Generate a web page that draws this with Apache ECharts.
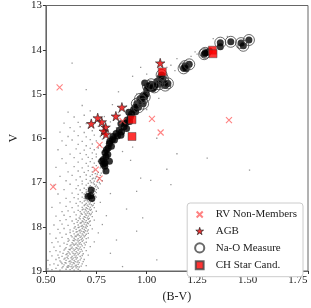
<!DOCTYPE html>
<html><head><meta charset="utf-8">
<script src="https://cdn.jsdelivr.net/npm/echarts@6/dist/echarts.min.js"></script>
<style>html,body{margin:0;padding:0;background:#fff}#c{width:311px;height:308px}</style>
</head><body><div id="c"></div>
<script>
const xTicks = [0.50, 0.75, 1.00, 1.25, 1.50, 1.75];
const yTicks = [13, 14, 15, 16, 17, 18, 19];

const fieldStars = [
[0.51,18.95],[0.53,18.97],[0.55,18.94],[0.57,18.98],[0.58,18.93],[0.60,18.96],[0.61,18.92],[0.62,18.97],[0.63,18.94],[0.64,18.98],[0.65,18.93],[0.66,18.96],[0.67,18.99],
[0.52,18.86],[0.54,18.84],[0.56,18.87],[0.58,18.83],[0.59,18.86],[0.60,18.82],[0.61,18.88],[0.62,18.84],[0.63,18.86],[0.64,18.83],[0.65,18.87],[0.66,18.85],[0.68,18.84],[0.70,18.88],
[0.51,18.76],[0.55,18.74],[0.57,18.77],[0.59,18.73],[0.60,18.76],[0.61,18.72],[0.62,18.77],[0.63,18.74],[0.64,18.76],[0.65,18.73],[0.66,18.77],[0.67,18.75],[0.69,18.74],
[0.53,18.66],[0.56,18.64],[0.58,18.67],[0.60,18.63],[0.61,18.66],[0.62,18.62],[0.63,18.67],[0.64,18.64],[0.65,18.66],[0.66,18.63],[0.67,18.67],[0.68,18.65],[0.71,18.64],
[0.52,18.56],[0.55,18.54],[0.57,18.57],[0.59,18.53],[0.61,18.56],[0.62,18.52],[0.63,18.57],[0.64,18.54],[0.65,18.56],[0.66,18.53],[0.67,18.57],[0.68,18.55],[0.70,18.54],
[0.54,18.46],[0.57,18.44],[0.60,18.47],[0.62,18.43],[0.63,18.46],[0.64,18.42],[0.65,18.47],[0.66,18.44],[0.67,18.46],[0.68,18.43],[0.69,18.47],[0.72,18.45],
[0.53,18.36],[0.56,18.34],[0.59,18.37],[0.61,18.33],[0.63,18.36],[0.64,18.32],[0.65,18.37],[0.66,18.34],[0.67,18.36],[0.68,18.33],[0.69,18.37],[0.70,18.35],[0.74,18.34],
[0.55,18.26],[0.58,18.24],[0.61,18.27],[0.63,18.23],[0.64,18.26],[0.65,18.22],[0.66,18.27],[0.67,18.24],[0.68,18.26],[0.69,18.23],[0.70,18.27],[0.71,18.25],
[0.52,18.16],[0.57,18.14],[0.60,18.17],[0.62,18.13],[0.64,18.16],[0.65,18.12],[0.66,18.17],[0.67,18.14],[0.68,18.16],[0.69,18.13],[0.70,18.17],[0.71,18.15],[0.76,18.14],
[0.56,18.06],[0.59,18.04],[0.62,18.07],[0.64,18.03],[0.65,18.06],[0.66,18.02],[0.67,18.07],[0.68,18.04],[0.69,18.06],[0.70,18.03],[0.71,18.07],[0.73,18.05],
[0.54,17.96],[0.58,17.94],[0.61,17.97],[0.64,17.93],[0.66,17.96],[0.67,17.92],[0.68,17.97],[0.69,17.94],[0.70,17.96],[0.71,17.93],[0.72,17.97],[0.78,17.95],
[0.57,17.86],[0.60,17.84],[0.63,17.87],[0.65,17.83],[0.66,17.86],[0.67,17.82],[0.68,17.87],[0.69,17.84],[0.70,17.86],[0.71,17.83],[0.72,17.87],[0.74,17.85],
[0.55,17.76],[0.59,17.74],[0.62,17.77],[0.65,17.73],[0.67,17.76],[0.68,17.72],[0.69,17.77],[0.70,17.74],[0.71,17.76],[0.72,17.73],[0.73,17.77],[0.80,17.75],
[0.58,17.66],[0.61,17.64],[0.64,17.67],[0.66,17.63],[0.67,17.66],[0.68,17.62],[0.69,17.67],[0.70,17.64],[0.71,17.66],[0.72,17.63],[0.73,17.67],[0.75,17.65],
[0.53,17.56],[0.60,17.54],[0.63,17.57],[0.66,17.53],[0.68,17.56],[0.69,17.52],[0.70,17.57],[0.71,17.54],[0.72,17.56],[0.73,17.53],[0.74,17.57],
[0.57,17.46],[0.62,17.44],[0.65,17.47],[0.67,17.43],[0.68,17.46],[0.69,17.42],[0.70,17.47],[0.71,17.44],[0.72,17.46],[0.73,17.43],[0.74,17.47],[0.77,17.45],
[0.60,17.36],[0.64,17.34],[0.66,17.37],[0.68,17.33],[0.69,17.36],[0.70,17.32],[0.71,17.37],[0.73,17.34],[0.74,17.36],[0.75,17.33],
[0.56,17.26],[0.63,17.24],[0.66,17.27],[0.68,17.23],[0.69,17.26],[0.70,17.22],[0.71,17.27],[0.72,17.24],[0.74,17.26],[0.75,17.23],[0.82,17.25],
[0.59,17.16],[0.65,17.14],[0.67,17.17],[0.69,17.13],[0.70,17.16],[0.71,17.12],[0.73,17.17],[0.74,17.14],[0.75,17.16],[0.76,17.13],
[0.54,17.06],[0.62,17.04],[0.66,17.07],[0.68,17.03],[0.70,17.06],[0.71,17.02],[0.72,17.07],[0.74,17.04],[0.75,17.06],[0.77,17.03],
[0.60,16.96],[0.65,16.94],[0.68,16.97],[0.70,16.93],[0.72,16.96],[0.73,16.92],[0.74,16.97],[0.76,16.94],[0.78,16.96],
[0.57,16.86],[0.63,16.84],[0.67,16.87],[0.70,16.83],[0.72,16.86],[0.73,16.82],[0.75,16.87],[0.77,16.84],
[0.61,16.76],[0.66,16.74],[0.69,16.77],[0.71,16.73],[0.73,16.76],[0.74,16.72],[0.76,16.77],[0.79,16.74],
[0.55,16.66],[0.64,16.64],[0.68,16.67],[0.71,16.63],[0.73,16.66],[0.75,16.62],[0.77,16.67],
[0.60,16.56],[0.66,16.54],[0.70,16.57],[0.72,16.53],[0.74,16.56],[0.76,16.52],[0.78,16.57],
[0.58,16.46],[0.64,16.44],[0.68,16.47],[0.71,16.43],[0.73,16.46],[0.75,16.42],[0.77,16.47],[0.80,16.44],
[0.62,16.36],[0.67,16.34],[0.70,16.37],[0.73,16.33],[0.75,16.36],[0.78,16.32],
[0.56,16.26],[0.65,16.24],[0.69,16.27],[0.72,16.23],[0.74,16.26],[0.76,16.22],[0.79,16.27],[0.81,16.24],
[0.60,16.16],[0.66,16.14],[0.70,16.17],[0.73,16.13],[0.77,16.16],[0.80,16.12],
[0.58,16.06],[0.63,16.04],[0.68,16.07],[0.72,16.03],[0.75,16.06],[0.78,16.02],[0.82,16.07],
[0.61,15.96],[0.66,15.94],[0.70,15.97],[0.74,15.93],[0.77,15.96],[0.83,15.94],
[0.57,15.86],[0.64,15.84],[0.69,15.87],[0.73,15.83],[0.81,15.86],
[0.62,15.76],[0.67,15.74],[0.71,15.77],[0.76,15.73],[0.85,15.76],
[0.59,15.66],[0.66,15.64],[0.70,15.67],[0.82,15.63],[0.88,15.66],
[0.64,15.52],[0.69,15.48],[0.79,15.51],
[0.61,15.41],[0.72,15.38],[0.86,15.42],
[0.68,15.26],[0.83,15.24],[0.90,15.27],
[0.585,18.90],[0.605,18.91],[0.615,18.89],[0.625,18.90],[0.635,18.91],[0.645,18.89],[0.655,18.90],[0.665,18.91],[0.675,18.89],
[0.575,18.80],[0.595,18.81],[0.615,18.79],[0.625,18.80],[0.635,18.81],[0.645,18.79],[0.655,18.80],[0.665,18.81],[0.685,18.79],
[0.565,18.70],[0.595,18.71],[0.605,18.69],[0.625,18.70],[0.635,18.71],[0.645,18.69],[0.655,18.70],[0.675,18.71],
[0.585,18.60],[0.605,18.61],[0.615,18.59],[0.635,18.60],[0.645,18.61],[0.655,18.59],[0.665,18.60],[0.685,18.61],
[0.595,18.50],[0.615,18.51],[0.625,18.49],[0.635,18.50],[0.645,18.51],[0.655,18.49],[0.665,18.50],[0.675,18.51],
[0.605,18.40],[0.625,18.41],[0.635,18.39],[0.645,18.40],[0.655,18.41],[0.665,18.39],[0.675,18.40],[0.695,18.41],
[0.615,18.30],[0.635,18.31],[0.645,18.29],[0.655,18.30],[0.665,18.31],[0.675,18.29],[0.685,18.30],
[0.625,18.20],[0.645,18.21],[0.655,18.19],[0.665,18.20],[0.675,18.21],[0.685,18.19],[0.695,18.20],
[0.635,18.10],[0.655,18.11],[0.665,18.09],[0.675,18.10],[0.685,18.11],[0.695,18.09],[0.705,18.10],
[0.645,18.00],[0.665,18.01],[0.675,17.99],[0.685,18.00],[0.695,18.01],[0.705,17.99],
[0.655,17.90],[0.675,17.91],[0.685,17.89],[0.695,17.90],[0.705,17.91],[0.715,17.89],
[0.665,17.80],[0.685,17.81],[0.695,17.79],[0.705,17.80],[0.715,17.81],
[0.675,17.70],[0.695,17.71],[0.705,17.69],[0.715,17.70],[0.725,17.71],
[0.685,17.60],[0.695,17.61],[0.705,17.59],[0.715,17.60],[0.725,17.61],
[0.695,17.50],[0.705,17.51],[0.715,17.49],[0.725,17.50],[0.735,17.51],
[0.695,17.40],[0.705,17.41],[0.715,17.39],[0.725,17.40],[0.735,17.41],
[0.705,17.30],[0.715,17.31],[0.725,17.29],[0.735,17.30],[0.745,17.31],
[0.705,17.20],[0.725,17.21],[0.735,17.19],[0.745,17.20],
[0.715,17.10],[0.725,17.11],[0.745,17.09],[0.755,17.10],
[0.725,17.00],[0.735,17.01],[0.755,16.99],[0.765,17.00],
[0.735,16.90],[0.745,16.91],[0.765,16.89],
[0.745,16.80],[0.755,16.81],[0.775,16.79],
[0.63,14.30],[0.70,14.90],[0.86,14.95],[0.93,14.60],[0.97,14.40],[1.00,14.55],[1.12,14.35],[1.15,14.20],[1.22,14.15],[1.25,14.10],[1.24,14.05],
[1.33,13.75],[1.40,13.70],[1.45,13.95],[1.10,14.40],[1.14,14.47],[0.95,15.00],[1.00,15.35],[1.06,15.10],[1.51,16.72],[1.30,16.45],[1.15,16.35],
[1.10,16.70],[1.12,17.05],[1.02,16.95],[0.95,17.20],[0.92,16.50],[0.88,16.30],[0.90,17.60],[0.95,18.10],[0.85,18.30],[0.82,18.60],[0.88,18.90],
[1.05,18.75],[0.98,17.80],[0.93,16.20],[1.05,16.00],[0.97,16.90]
];

const members = [
[1.507,13.78],[1.468,13.85],[1.479,13.91],[1.417,13.82],[1.365,13.84],[1.365,13.93],[1.290,14.07],[1.300,14.06],[1.285,14.10],[1.311,14.03],
[1.190,14.37],[1.211,14.33],[1.183,14.42],[1.195,14.43],
[1.074,14.57],[1.085,14.74],[1.092,14.81],[1.061,14.78],[1.080,14.65],[1.068,14.62],[1.050,14.72],[1.040,14.80],[1.022,14.78],[1.038,14.85],
[1.006,14.82],[1.015,14.87],[0.990,14.75],[1.000,14.90],[1.030,14.88],[1.105,14.76],
[0.998,15.00],[0.990,15.07],[0.982,15.04],[0.967,15.11],[0.951,15.22],[0.982,15.22],[0.959,15.30],[0.975,15.15],[0.943,15.30],[0.935,15.35],
[0.945,15.40],[0.925,15.45],[0.911,15.41],[0.919,15.52],[0.903,15.59],[0.915,15.62],[0.895,15.66],[0.872,15.67],[0.888,15.74],[0.900,15.78],
[0.864,15.82],[0.875,15.86],[0.848,15.89],[0.872,15.93],[0.855,15.95],[0.832,15.96],[0.840,16.04],[0.817,16.07],[0.830,16.03],[0.825,16.18],
[0.809,16.22],[0.815,16.12],[0.793,16.33],[0.798,16.41],[0.785,16.48],[0.793,16.56],[0.777,16.52],[0.785,16.59],[0.815,16.52],[0.807,16.37],
[0.792,16.63],[0.798,16.74],[0.800,16.26],
[0.725,17.17],[0.722,17.30],[0.709,17.31],[0.728,17.36]
];

const naOMeasure = [
[1.507,13.78],[1.468,13.85],[1.479,13.91],[1.417,13.82],[1.365,13.84],[1.290,14.07],[1.285,14.10],[1.190,14.37],[1.211,14.33],[1.183,14.42],
[1.074,14.57],[1.085,14.74],[1.092,14.81],[1.061,14.78],[1.022,14.78],[1.038,14.85],[1.006,14.82],[1.105,14.76],[1.080,14.65],
[0.982,15.22],[0.967,15.11],[0.975,15.15],[0.990,15.07],[0.959,15.30],[0.951,15.22]
];

const agbStars = [
[1.067,14.30],[0.877,15.30],[0.847,15.50],[0.757,15.54],[0.725,15.67],[0.777,15.63],[0.796,15.75],[0.787,15.84],[0.798,15.91]
];

const chStarCand = [
[1.077,14.50],[0.927,15.58],[0.927,15.96],[1.326,14.01],[1.329,14.09]
];

const rvNonMembers = [
[0.568,14.85],[0.536,17.10],[1.026,15.56],[1.069,15.87],[1.408,15.59],[0.766,16.15],[0.747,16.71],[0.766,16.91],[0.880,15.61]
];

const FONT = 'Liberation Serif';
const starPath = 'path://M50,0L61,35L98,35L68,57L79,91L50,70L21,91L32,57L2,35L39,35Z';
const xPath = 'path://M0,0L10,10M10,0L0,10';
const legendX = 'path://M-4,-4M14,14M0,0L10,10M10,0L0,10';
const legendStar = 'path://M-18,-20M118,116M50,0L61,35L98,35L68,57L79,91L50,70L21,91L32,57L2,35L39,35Z';
const legendCircle = 'path://M-1,-1M11,11M0,5A5,5,0,1,1,10,5A5,5,0,1,1,0,5Z';
const legendSquare = 'path://M-2,-2M12,12M0,0L10,0L10,10L0,10Z';

const chart = echarts.init(document.getElementById('c'), null, {renderer: 'canvas'});
chart.setOption({
  animation: false,
  backgroundColor: '#fff',
  grid: {left: 33, right: 3, top: 5, bottom: 33, show: true, borderColor: '#666', borderWidth: 1, containLabel: false},
  xAxis: {
    type: 'value', min: 0.5, max: 1.8, interval: 0.25,
    name: '(B-V)', nameLocation: 'middle', nameGap: 20,
    nameTextStyle: {fontFamily: FONT, fontSize: 12, color: '#222'},
    axisLine: {lineStyle: {color: '#666'}},
    axisTick: {length: 3, lineStyle: {color: '#333'}},
    splitLine: {show: false},
    axisLabel: {fontFamily: FONT, fontSize: 11, color: '#222', margin: 4,
      formatter: v => xTicks.some(t => Math.abs(t - v) < 1e-6) ? v.toFixed(2) : ''}
  },
  yAxis: {
    type: 'value', min: 13, max: 19, interval: 1, inverse: true,
    name: 'V', nameLocation: 'middle', nameGap: 21,
    nameTextStyle: {fontFamily: FONT, fontSize: 12, color: '#222'},
    axisLine: {lineStyle: {color: '#666'}},
    axisTick: {length: 3, lineStyle: {color: '#333'}},
    splitLine: {show: false},
    axisLabel: {fontFamily: FONT, fontSize: 11, color: '#222', margin: 4,
      formatter: v => yTicks.includes(v) ? String(v) : ''}
  },
  legend: {
    right: 8, top: 203, orient: 'vertical',
    padding: [5, 6], itemGap: 4.3, itemWidth: 22, itemHeight: 11,
    backgroundColor: '#fff', borderColor: '#ccc', borderWidth: 1, borderRadius: 3,
    textStyle: {fontFamily: FONT, fontSize: 11, color: '#222'},
    data: [
      {name: 'RV Non-Members', icon: legendX},
      {name: 'AGB', icon: legendStar, itemStyle: {color: '#e00', borderColor: '#111', borderWidth: 0.8}},
      {name: 'Na-O Measure', icon: legendCircle},
      {name: 'CH Star Cand.', icon: legendSquare}
    ]
  },
  series: [
    {name: 'Field', type: 'scatter', data: fieldStars, symbol: 'rect', symbolSize: 1.3,
     itemStyle: {color: 'rgba(70,70,70,0.7)'}, silent: true, z: 1},
    {name: 'Members', type: 'scatter', data: members, symbol: 'circle', symbolSize: 7,
     itemStyle: {color: '#000'}, z: 2},
    {name: 'Na-O Measure', type: 'scatter', data: naOMeasure, symbol: 'circle', symbolSize: 11,
     itemStyle: {color: 'rgba(0,0,0,0)', borderColor: '#444', borderWidth: 1}, z: 3},
    {name: 'AGB', type: 'scatter', data: agbStars, symbol: starPath, symbolSize: 9.5,
     itemStyle: {color: '#e00', borderColor: '#222', borderWidth: 0.8}, z: 4},
    {name: 'CH Star Cand.', type: 'scatter', data: chStarCand, symbol: 'rect', symbolSize: 8,
     itemStyle: {color: '#f00', borderColor: '#444', borderWidth: 0.6}, z: 5},
    {name: 'RV Non-Members', type: 'scatter', data: rvNonMembers, symbol: xPath, symbolSize: 6,
     itemStyle: {color: 'rgba(0,0,0,0)', borderColor: 'rgba(255,60,60,0.8)', borderWidth: 1.1}, z: 6}
  ]
});
</script>
</body></html>
